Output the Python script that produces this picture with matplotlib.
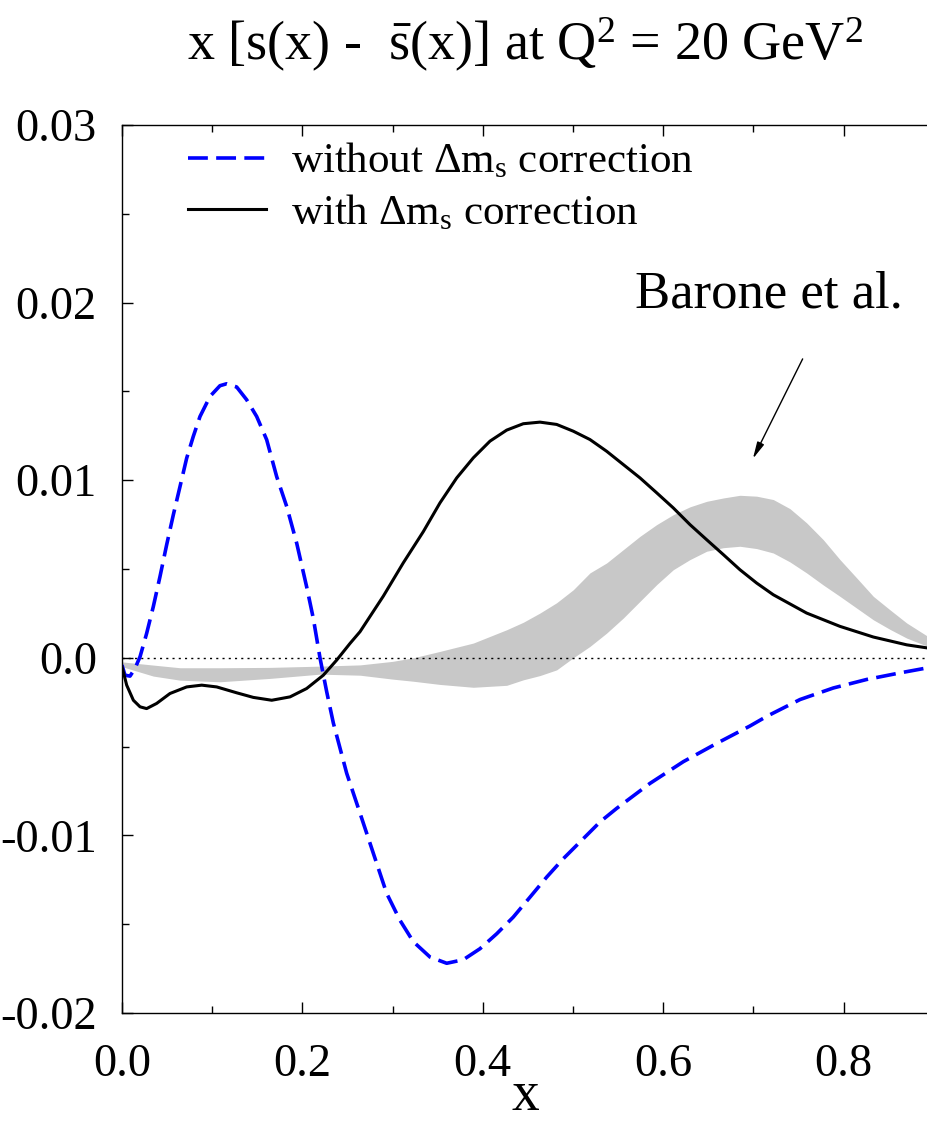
import numpy as np
import matplotlib
matplotlib.use("Agg")
import matplotlib.pyplot as plt
from matplotlib.ticker import MultipleLocator

plt.rcParams['font.family'] = ['Liberation Serif', 'DejaVu Serif']
plt.rcParams['mathtext.fontset'] = 'custom'
plt.rcParams['mathtext.rm'] = 'Liberation Serif'
plt.rcParams['mathtext.it'] = 'Liberation Serif:italic'

# without Delta m_s correction (blue dashed)
x_wo = [0.0, 0.0033, 0.0089, 0.0144, 0.020, 0.0273, 0.0347, 0.0421, 0.0495, 0.0569,
        0.0643, 0.0717, 0.079, 0.0865, 0.0976, 0.1086, 0.116, 0.1271, 0.1382, 0.1493,
        0.1604, 0.1715, 0.1826, 0.1937, 0.2047, 0.2121, 0.2195, 0.2269, 0.2343, 0.2491,
        0.2639, 0.2786, 0.2934, 0.3082, 0.3229, 0.3415, 0.36, 0.3784, 0.3969, 0.4154,
        0.4338, 0.4523, 0.4708, 0.4893, 0.5078, 0.53, 0.5484, 0.5854, 0.6223, 0.6593,
        0.6962, 0.7147, 0.7517, 0.7886, 0.8256, 0.8625, 0.8936]
y_wo = [-0.00041, -0.00098, -0.00103, -0.0006, 0.00006, 0.00137, 0.00288, 0.00457, 0.00636, 0.00805,
        0.00964, 0.01124, 0.01246, 0.01359, 0.01472, 0.01532, 0.01543, 0.01525, 0.01453, 0.01359,
        0.01228, 0.0102, 0.00852, 0.00645, 0.004, 0.00222, 0.0, -0.0019, -0.00367, -0.0065,
        -0.00875, -0.0110, -0.01326, -0.01478, -0.01598, -0.01685, -0.0172, -0.0170, -0.01638, -0.01554,
        -0.0146, -0.01348, -0.01235, -0.01131, -0.01037, -0.00924, -0.00848, -0.00707, -0.00585, -0.00482,
        -0.00384, -0.0033, -0.00235, -0.0017, -0.00122, -0.00085, -0.00056]

# with Delta m_s correction (black solid)
x_w = [0.0, 0.0052, 0.0126, 0.02, 0.0273, 0.0384, 0.0532, 0.0717, 0.0884, 0.105,
       0.1271, 0.1456, 0.166, 0.1863, 0.2047, 0.2232, 0.238, 0.2528, 0.2639, 0.2897,
       0.3119, 0.334, 0.3525, 0.3711, 0.3895, 0.408, 0.4265, 0.4449, 0.4634, 0.4819,
       0.5003, 0.5188, 0.5373, 0.5558, 0.5743, 0.5928, 0.6112, 0.6297, 0.6482, 0.6667,
       0.6851, 0.7036, 0.7221, 0.759, 0.796, 0.833, 0.87, 0.8936]
y_w = [-0.0005, -0.00154, -0.00239, -0.00276, -0.00286, -0.00257, -0.00201, -0.00164, -0.00154, -0.00164,
       -0.00197, -0.00223, -0.00239, -0.0022, -0.00173, -0.00098, -0.00013, 0.00081, 0.00147, 0.00347,
       0.00535, 0.0071, 0.00872, 0.01013, 0.01126, 0.0122, 0.01282, 0.01318, 0.01327, 0.01314,
       0.01276, 0.01229, 0.01163, 0.01088, 0.01013, 0.00929, 0.00844, 0.0075, 0.00665, 0.00581,
       0.00496, 0.00421, 0.00355, 0.00252, 0.00177, 0.00117, 0.00073, 0.00055]

# Barone et al. band
x_band = [0.0, 0.0347, 0.0643, 0.1086, 0.1641, 0.2195, 0.2639, 0.3, 0.323, 0.3525,
          0.3895, 0.4265, 0.4449, 0.4634, 0.4819, 0.5003, 0.5188, 0.5373, 0.5558, 0.5743,
          0.5928, 0.6112, 0.6297, 0.6482, 0.6667, 0.6851, 0.7036, 0.7221, 0.7405, 0.759,
          0.7775, 0.796, 0.8145, 0.833, 0.8515, 0.87, 0.8936]
band_hi = [-0.00023, -0.00041, -0.00056, -0.00056, -0.00054, -0.00047, -0.0004, -0.0002, 0.0, 0.00036,
           0.00083, 0.00158, 0.002, 0.00252, 0.0031, 0.00383, 0.00478, 0.00534, 0.00609, 0.00684,
           0.0075, 0.00806, 0.0085, 0.00881, 0.009, 0.00915, 0.0091, 0.00891, 0.0084, 0.0076,
           0.00665, 0.00553, 0.0045, 0.00346, 0.0027, 0.00196, 0.0012]
band_lo = [-0.0005, -0.00103, -0.00126, -0.00135, -0.00116, -0.00092, -0.00098, -0.0012, -0.00132, -0.0015,
           -0.00166, -0.00155, -0.00124, -0.001, -0.00068, 0.0, 0.00064, 0.00139, 0.00224, 0.00318,
           0.00412, 0.00496, 0.00553, 0.006, 0.0062, 0.00628, 0.00615, 0.0059, 0.0054, 0.00478,
           0.0041, 0.00346, 0.0028, 0.00214, 0.0016, 0.00111, 0.00064]

fig = plt.figure(figsize=(9.28, 11.29), dpi=100)
ax = fig.add_axes([122 / 928, 1 - 1013 / 1129, 1 - 122 / 928, (1013 - 125) / 1129])

ax.fill_between(x_band, band_lo, band_hi, color='#c8c8c8', lw=0, zorder=1)
ax.axhline(0, color='black', lw=1.0, ls=(0, (1.5, 3)), zorder=2)
ax.plot(x_wo, y_wo, color='#0000ff', lw=2.6, ls=(0, (5.5, 2.3)), zorder=3,
        label='without \u0394m$_\\mathrm{s}$ correction')
ax.plot(x_w, y_w, color='black', lw=2.2, zorder=4,
        label='with \u0394m$_\\mathrm{s}$ correction')

ax.set_xlim(0, 0.8936)
ax.set_ylim(-0.02, 0.03)
ax.set_xticks([0.0, 0.2, 0.4, 0.6, 0.8])
ax.set_xticklabels(['0.0', '0.2', '0.4', '0.6', '0.8'])
ax.xaxis.set_minor_locator(MultipleLocator(0.1))
ax.set_yticks([-0.02, -0.01, 0.0, 0.01, 0.02, 0.03])
ax.set_yticklabels(['-0.02', '-0.01', '0.0', '0.01', '0.02', '0.03'])
ax.yaxis.set_minor_locator(MultipleLocator(0.005))
ax.tick_params(which='both', direction='in', top=True, right=False, width=1.0,
               labelsize=33.5)
ax.tick_params(which='major', length=8)
ax.tick_params(which='minor', length=5)
ax.tick_params(axis='y', pad=18)
ax.tick_params(axis='x', pad=22)
ax.spines['right'].set_visible(False)
for s in ['left', 'bottom', 'top']:
    ax.spines[s].set_linewidth(1.0)

ax.set_xlabel('x', fontsize=40)
ax.xaxis.label.set_va('baseline')
ax.xaxis.set_label_coords((525 - 122) / 806, (1013 - 1110) / 888)

leg = ax.legend(loc='upper left', bbox_to_anchor=(0.0819, 0.981), frameon=False, fontsize=31,
                borderpad=0, borderaxespad=0, handlelength=1.8, handletextpad=0.6,
                labelspacing=0.27)

ax.annotate('', xy=(0.6981, 0.01107), xytext=(0.756, 0.01697),
            arrowprops=dict(arrowstyle='-|>,head_length=1.0,head_width=0.22', color='black', lw=1.0))
ax.text((769 - 122) / 902, (658 - 295) / 17733, 'Barone et al.', fontsize=38, ha='center', va='center')

fig.text(525 / 928, 1 - 45 / 1129,
         r'x [s(x) -  $\bar{\mathrm{s}}$(x)] at Q$^2$ = 20 GeV$^2$',
         fontsize=39, ha='center', va='center')

fig.savefig('out.png', dpi=100)
